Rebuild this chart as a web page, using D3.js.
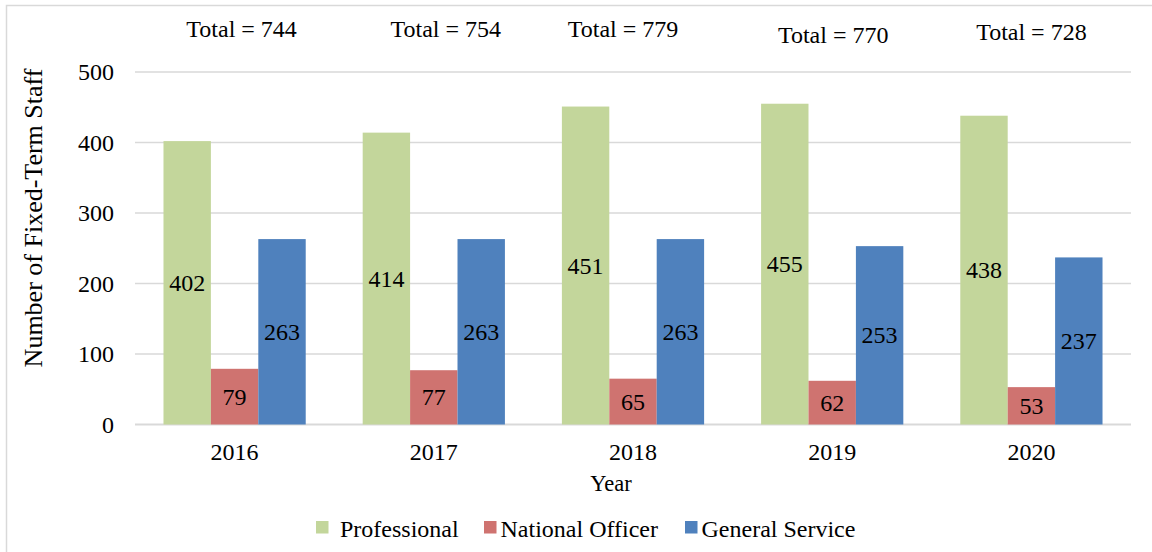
<!DOCTYPE html>
<html>
<head>
<meta charset="utf-8">
<script src="https://cdn.jsdelivr.net/npm/d3@7"></script>
<style>
  body { margin: 0; background: #fff; }
  text { font-family: "Liberation Serif", "Times New Roman", serif; fill: #000; }
</style>
</head>
<body>
<svg id="chart" width="1152" height="552"></svg>
<script>
var years = ["2016", "2017", "2018", "2019", "2020"]
var seriesNames = ["Professional", "National Officer", "General Service"]
var professional = [402, 414, 451, 455, 438]
var nationalOfficer = [79, 77, 65, 62, 53]
var generalService = [263, 263, 263, 253, 237]
var yTicks = [0, 100, 200, 300, 400, 500]

var colors = ["#c3d69b", "#cf7370", "#4f81bd"]
var series = [professional, nationalOfficer, generalService]

var svg = d3.select("#chart")

// outer chart border (runs off right/bottom edges)
svg.append("rect")
    .attr("x", 6.5).attr("y", 5.5)
    .attr("width", 1160).attr("height", 560)
    .attr("fill", "none")
    .attr("stroke", "#d9d9d9")
    .attr("stroke-width", 1.5)

var plotLeft = 135, plotRight = 1131, plotTop = 72, plotBottom = 424.5

var x = d3.scaleBand()
    .domain(years)
    .range([plotLeft, plotRight])
    .paddingInner(0.286)
    .paddingOuter(0.143)

var xs = d3.scaleBand()
    .domain(seriesNames)
    .range([0, x.bandwidth()])

var y = d3.scaleLinear()
    .domain([0, 500])
    .range([plotBottom, plotTop])

// gridlines
svg.append("g")
    .selectAll("line")
    .data(yTicks)
    .enter()
    .append("line")
    .attr("x1", plotLeft).attr("x2", plotRight)
    .attr("y1", function(d){ return y(d) })
    .attr("y2", function(d){ return y(d) })
    .attr("stroke", "#d9d9d9")
    .attr("stroke-width", function(d){ return d == 0 ? 2 : 1.5 })

// y tick labels
svg.append("g")
    .selectAll("text")
    .data(yTicks)
    .enter()
    .append("text")
    .attr("x", 114)
    .attr("y", function(d){ return y(d) + 8 })
    .attr("text-anchor", "end")
    .attr("font-size", "24px")
    .text(function(d){ return d })

// bars + labels
var groups = svg.append("g")
    .selectAll("g")
    .data(years)
    .enter()
    .append("g")
    .attr("transform", function(d){ return "translate(" + x(d) + ",0)" })

seriesNames.forEach(function(name, s){
    groups.append("rect")
        .attr("x", xs(name))
        .attr("y", function(d, i){ return y(series[s][i]) })
        .attr("width", xs.bandwidth())
        .attr("height", function(d, i){ return y(0) - y(series[s][i]) })
        .attr("fill", colors[s])

    groups.append("text")
        .attr("x", xs(name) + xs.bandwidth() / 2)
        .attr("y", function(d, i){ return (y(series[s][i]) + y(0)) / 2 + 8 })
        .attr("text-anchor", "middle")
        .attr("font-size", "24px")
        .text(function(d, i){ return series[s][i] })
})

// totals
var totalDx = [7, 12, -10, 1, 0]
var totalY = [37, 37, 37, 43, 39.5]
svg.append("g")
    .selectAll("text")
    .data(years)
    .enter()
    .append("text")
    .attr("x", function(d, i){ return x(d) + x.bandwidth() / 2 + totalDx[i] })
    .attr("y", function(d, i){ return totalY[i] })
    .attr("text-anchor", "middle")
    .attr("font-size", "24px")
    .text(function(d, i){ return "Total = " + d3.sum(series, function(arr){ return arr[i] }) })

// x labels
svg.append("g")
    .selectAll("text")
    .data(years)
    .enter()
    .append("text")
    .attr("x", function(d){ return x(d) + x.bandwidth() / 2 })
    .attr("y", 460)
    .attr("text-anchor", "middle")
    .attr("font-size", "24px")
    .text(function(d){ return d })

// axis titles
svg.append("text")
    .attr("x", 611).attr("y", 490.5)
    .attr("text-anchor", "middle")
    .attr("font-size", "22.5px")
    .text("Year")

svg.append("text")
    .attr("transform", "translate(42,218) rotate(-90)")
    .attr("text-anchor", "middle")
    .attr("font-size", "26px")
    .text("Number of Fixed-Term Staff")

// legend
var legendX = [316, 484, 685]
var legend = svg.append("g")
    .selectAll("g")
    .data(seriesNames)
    .enter()
    .append("g")
    .attr("transform", function(d, i){ return "translate(" + legendX[i] + ",521)" })
legend.append("rect")
    .attr("width", 12.5).attr("height", 12.5)
    .attr("fill", function(d, i){ return colors[i] })
legend.append("text")
    .attr("x", function(d, i){ return i == 0 ? 24 : 16.5 })
    .attr("y", 15.5)
    .attr("font-size", "24px")
    .text(function(d){ return d })
</script>
</body>
</html>
